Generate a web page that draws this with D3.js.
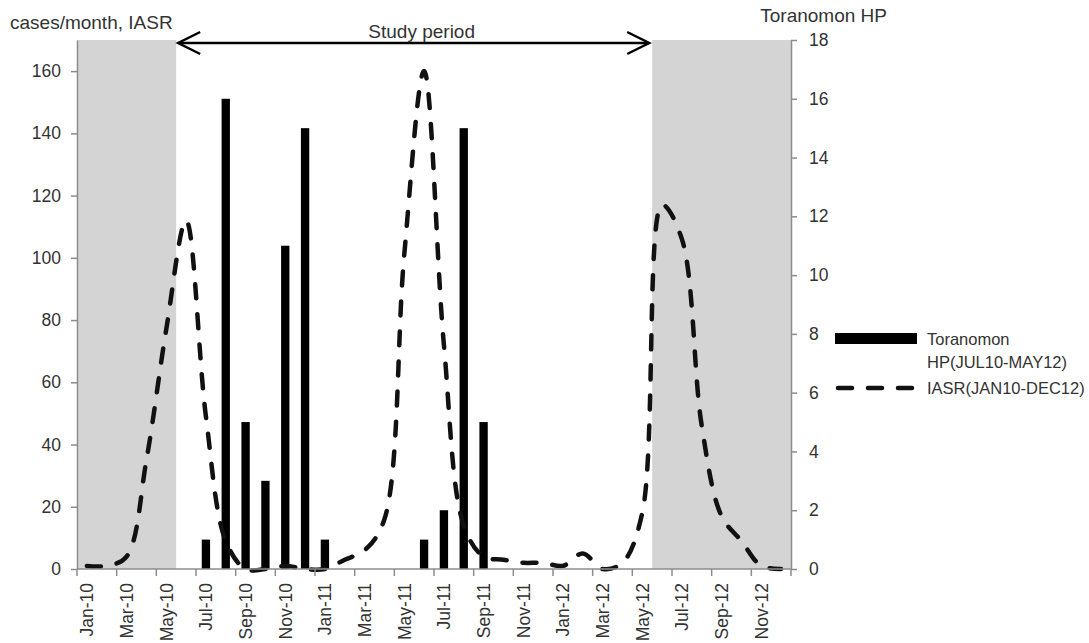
<!DOCTYPE html>
<html>
<head>
<meta charset="utf-8">
<script src="https://cdn.jsdelivr.net/npm/d3@7"></script>
<style>
  body { margin: 0; background: #fff; }
  text { font-family: "Liberation Sans", Arial, sans-serif; fill: #333; }
</style>
</head>
<body>
<svg id="chart" width="1089" height="643"></svg>
<script>
// monthly categories, Jan-10 .. Dec-12
var months = ["Jan-10","Feb-10","Mar-10","Apr-10","May-10","Jun-10","Jul-10","Aug-10","Sep-10","Oct-10","Nov-10","Dec-10",
              "Jan-11","Feb-11","Mar-11","Apr-11","May-11","Jun-11","Jul-11","Aug-11","Sep-11","Oct-11","Nov-11","Dec-11",
              "Jan-12","Feb-12","Mar-12","Apr-12","May-12","Jun-12","Jul-12","Aug-12","Sep-12","Oct-12","Nov-12","Dec-12"];

// IASR cases/month (left axis)
var iasr = [1, 1, 4, 35, 77, 112, 49, 9, 0, 0, 1, 0,
            0, 3, 6, 16, 101, 160, 72, 14, 4, 3, 2, 2,
            1, 5, 0, 2, 18, 117, 106, 46, 17, 9, 1, 0];

// Toranomon HP cases/month (right axis), only during the study period
var toranomon = [null, null, null, null, null, null, 1, 16, 5, 3, 11, 15,
                 1, 0, 0, 0, 0, 1, 2, 15, 5, 0, 0, 0,
                 0, 0, 0, 0, 0, null, null, null, null, null, null, null];

var leftTicks = [0, 20, 40, 60, 80, 100, 120, 140, 160];
var rightTicks = [0, 2, 4, 6, 8, 10, 12, 14, 16, 18];
var shaded = [["Jan-10", "May-10"], ["Jun-12", "Dec-12"]];
var studyPeriod = ["Jun-10", "Jun-12"]; // arrow runs between the shaded blocks
var legendNames = [["Toranomon", "HP(JUL10-MAY12)"], ["IASR(JAN10-DEC12)"]];

var svg = d3.select("#chart");

// plot area (window.top is read only, so keep these in an object)
var plot = {left: 77, right: 791, top: 40, bottom: 569};

var x = d3.scaleBand().domain(months).range([plot.left, plot.right]).padding(0);
var bw = x.bandwidth();
var yL = d3.scaleLinear().domain([0, 170]).range([plot.bottom, plot.top]);
var yR = d3.scaleLinear().domain([0, 18]).range([plot.bottom, plot.top]);

// grey blocks outside the study period
svg.selectAll("rect.shade")
   .data(shaded)
   .enter().append("rect")
   .attr("class", "shade")
   .attr("x", function(d) { return x(d[0]); })
   .attr("y", plot.top)
   .attr("width", function(d) { return x(d[1]) + bw - x(d[0]); })
   .attr("height", plot.bottom - plot.top)
   .attr("fill", "#d4d4d4");

// Toranomon bars
var barW = bw * 0.42;
svg.selectAll("rect.bar")
   .data(months.map(function(m, i) { return {m: m, v: toranomon[i]}; })
               .filter(function(d) { return d.v !== null && d.v > 0; }))
   .enter().append("rect")
   .attr("class", "bar")
   .attr("x", function(d) { return x(d.m) + bw / 2 - barW / 2; })
   .attr("y", function(d) { return yR(d.v); })
   .attr("width", barW)
   .attr("height", function(d) { return yR(0) - yR(d.v); })
   .attr("fill", "#000");

// IASR dashed smoothed line
var line = d3.line()
             .x(function(d, i) { return x(months[i]) + bw / 2; })
             .y(function(d) { return yL(d); })
             .curve(d3.curveCatmullRom.alpha(0.5));

svg.append("path")
   .datum(iasr)
   .attr("d", line)
   .attr("fill", "none")
   .attr("stroke", "#111")
   .attr("stroke-width", 4.5)
   .attr("stroke-linecap", "round")
   .attr("stroke-dasharray", "14,16");

// left axis
var axL = svg.append("g")
   .attr("transform", "translate(" + plot.left + ",0)")
   .call(d3.axisLeft(yL).tickValues(leftTicks).tickSize(6).tickSizeOuter(0).tickPadding(10));
// right axis
var axR = svg.append("g")
   .attr("transform", "translate(" + plot.right + ",0)")
   .call(d3.axisRight(yR).tickValues(rightTicks).tickSize(6).tickSizeOuter(0).tickPadding(12));

[axL, axR].forEach(function(g) {
    g.select(".domain").attr("stroke", "#8c8c8c").attr("stroke-width", 1.5);
    g.selectAll(".tick line").attr("stroke", "#8c8c8c").attr("stroke-width", 1.5);
    g.selectAll(".tick text").attr("font-size", "17.5px").attr("fill", "#333")
     .style("font-family", "'Liberation Sans', Arial, sans-serif");
});

// bottom axis: line, ticks at every second category boundary, labels centred
svg.append("line")
   .attr("x1", plot.left).attr("x2", plot.right)
   .attr("y1", plot.bottom).attr("y2", plot.bottom)
   .attr("stroke", "#8c8c8c").attr("stroke-width", 1.5);

var tickPos = months.filter(function(m, i) { return i % 2 === 0; }).map(function(m) { return x(m); });
tickPos.push(plot.right);
svg.selectAll("line.xtick")
   .data(tickPos)
   .enter().append("line")
   .attr("class", "xtick")
   .attr("x1", function(d) { return d; }).attr("x2", function(d) { return d; })
   .attr("y1", plot.bottom).attr("y2", plot.bottom + 7)
   .attr("stroke", "#8c8c8c").attr("stroke-width", 1.5);

svg.selectAll("text.xlab")
   .data(months.filter(function(m, i) { return i % 2 === 0; }))
   .enter().append("text")
   .attr("class", "xlab")
   .attr("transform", function(d) {
       return "translate(" + (x(d) + bw / 2) + "," + (plot.bottom + 14) + ") rotate(-90)";
   })
   .attr("dy", "0.36em")
   .attr("text-anchor", "end")
   .attr("font-size", "17.5px")
   .text(function(d) { return d; });

// axis titles
svg.append("text")
   .attr("x", 10).attr("y", 29)
   .attr("font-size", "19px")
   .text("cases/month, IASR");
svg.append("text")
   .attr("x", 887).attr("y", 22)
   .attr("text-anchor", "end")
   .attr("font-size", "19px")
   .text("Toranomon HP");

// study period arrow
var ax1 = x(studyPeriod[0]) + 2, ax2 = x(studyPeriod[1]) - 3, ay = 43;
svg.append("line")
   .attr("x1", ax1).attr("x2", ax2).attr("y1", ay).attr("y2", ay)
   .attr("stroke", "#000").attr("stroke-width", 2.5);
svg.append("path")
   .attr("d", "M" + (ax1 + 22) + "," + (ay - 11) + "L" + ax1 + "," + ay + "L" + (ax1 + 22) + "," + (ay + 11))
   .attr("fill", "none").attr("stroke", "#000").attr("stroke-width", 2.5);
svg.append("path")
   .attr("d", "M" + (ax2 - 22) + "," + (ay - 11) + "L" + ax2 + "," + ay + "L" + (ax2 - 22) + "," + (ay + 11))
   .attr("fill", "none").attr("stroke", "#000").attr("stroke-width", 2.5);
svg.append("text")
   .attr("x", (ax1 + ax2) / 2 + 8).attr("y", 38)
   .attr("text-anchor", "middle")
   .attr("font-size", "19px")
   .text("Study period");

// legend
var lg = svg.append("g").attr("transform", "translate(835,0)");
lg.append("rect")
  .attr("x", 0).attr("y", 333).attr("width", 82).attr("height", 11)
  .attr("fill", "#000");
lg.append("text")
  .attr("x", 92).attr("y", 345)
  .attr("font-size", "16.5px")
  .selectAll("tspan")
  .data(legendNames[0])
  .enter().append("tspan")
  .attr("x", 92)
  .attr("dy", function(d, i) { return i === 0 ? 0 : 23; })
  .text(function(d) { return d; });
lg.append("line")
  .attr("x1", 3).attr("x2", 80).attr("y1", 388).attr("y2", 388)
  .attr("stroke", "#111").attr("stroke-width", 4.5)
  .attr("stroke-linecap", "round")
  .attr("stroke-dasharray", "14,16");
lg.append("text")
  .attr("x", 92).attr("y", 394)
  .attr("font-size", "16.5px")
  .text(legendNames[1][0]);
</script>
</body>
</html>
